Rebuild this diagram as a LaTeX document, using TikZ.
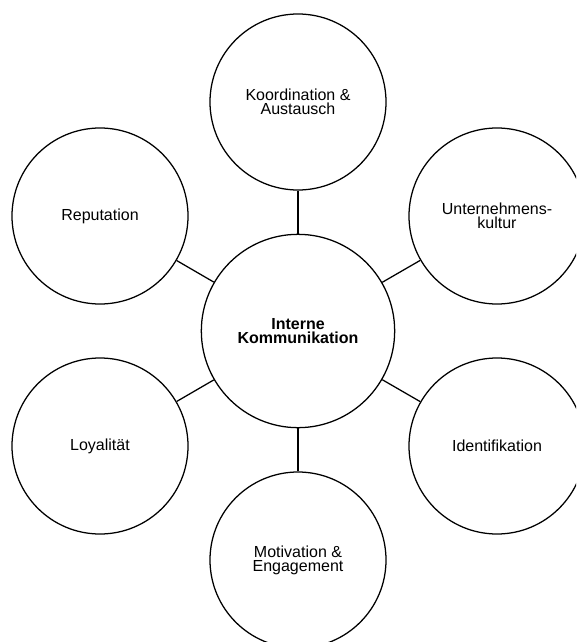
\documentclass[tikz,border=0pt]{standalone}
\usepackage{fontspec}
\setmainfont{Liberation Sans}
\begin{document}
\begin{tikzpicture}[x=0.75pt,y=-0.75pt,
  bubble/.style={circle,draw=black,line width=0.95pt,minimum size=132pt,inner sep=0pt,align=center,font=\fontsize{12}{10.5}\selectfont},
  hub/.style={bubble,minimum size=145pt,font=\bfseries\fontsize{12}{10.8}\selectfont},
  link/.style={draw=black,line width=0.95pt}]
\useasboundingbox (0,0) rectangle (576,642);
\clip (0,0) rectangle (576,642);
\fill[white] (0,0) rectangle (576,642);
\node[hub] (c) at (298,331) {Interne\\Kommunikation};
\node[bubble] (t) at (298,102) {Koordination \&\\Austausch};
\node[bubble] (ur) at (497,216) {Unternehmens-\\kultur};
\node[bubble] (ul) at (100,216) {Reputation};
\node[bubble] (lr) at (497,446) {Identifikation};
\node[bubble] (ll) at (100,446) {Loyalität};
\node[bubble] (b) at (298,560) {Motivation \&\\Engagement};
\draw[link] (c) -- (t);
\draw[link] (c) -- (ur);
\draw[link] (c) -- (ul);
\draw[link] (c) -- (lr);
\draw[link] (c) -- (ll);
\draw[link] (c) -- (b);
\end{tikzpicture}
\end{document}
